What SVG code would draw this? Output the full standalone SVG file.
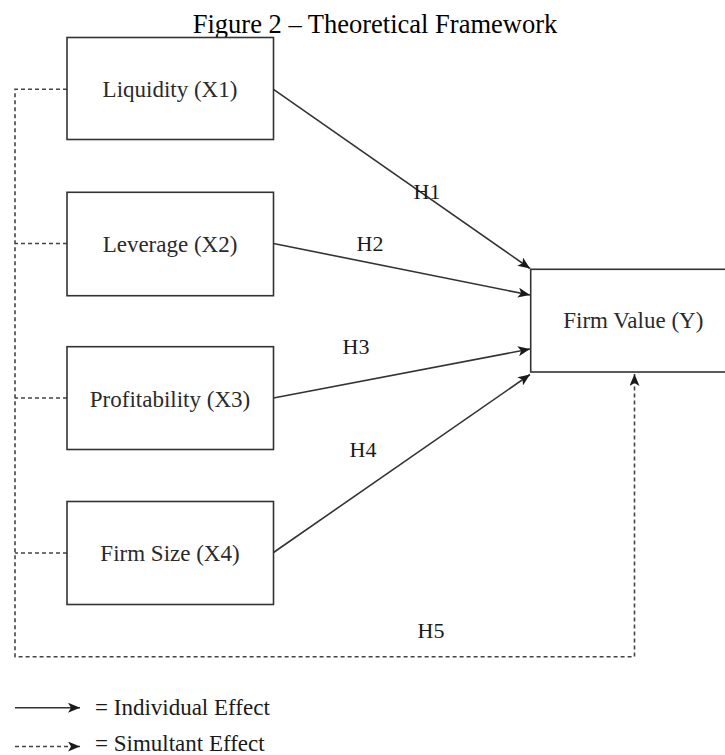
<svg xmlns="http://www.w3.org/2000/svg" width="725" height="755" viewBox="0 0 725 755">
<defs>
<style>
.box{fill:#fff;stroke:#333;stroke-width:1.6}
.t{font-family:"Liberation Serif","Times New Roman",serif;font-size:23px;fill:#2a2a2a;text-anchor:middle}
.h{font-family:"Liberation Serif","Times New Roman",serif;font-size:22px;fill:#1a1a1a;text-anchor:middle}
.lg{font-family:"Liberation Serif","Times New Roman",serif;font-size:23px;fill:#1a1a1a}
.solid{fill:none;stroke:#333;stroke-width:1.6}
.dash{fill:none;stroke:#444;stroke-width:1.6;stroke-dasharray:4 3}
</style>
<marker id="ah" viewBox="0 0 12 10" refX="12" refY="5" markerWidth="12" markerHeight="10" markerUnits="userSpaceOnUse" orient="auto">
<path d="M0,0 L12,5 L0,10 L3,5 z" fill="#1a1a1a"/>
</marker>
</defs>
<rect width="725" height="755" fill="#fff"/>
<text x="375" y="32.5" style="font-family:'Liberation Serif','Times New Roman',serif;font-size:26.5px;fill:#000;text-anchor:middle">Figure 2 – Theoretical Framework</text>
<g id="connectors">
<path class="dash" d="M67,89.3 H15 V656.7 H634.5 V374" marker-end="url(#ah)"/>
<path class="dash" d="M67,243.5 H15"/>
<path class="dash" d="M67,398 H15"/>
<path class="dash" d="M67,553 H15"/>
<path class="solid" d="M273.5,89.3 L530,268.5" marker-end="url(#ah)"/>
<path class="solid" d="M273.5,243.5 L530,295" marker-end="url(#ah)"/>
<path class="solid" d="M273.5,398 L530,349" marker-end="url(#ah)"/>
<path class="solid" d="M273.5,552.5 L530,374.5" marker-end="url(#ah)"/>
<text class="h" x="427" y="199">H1</text>
<text class="h" x="370" y="250.7">H2</text>
<text class="h" x="356" y="354">H3</text>
<text class="h" x="363" y="456.7">H4</text>
<text class="h" x="431" y="637.7">H5</text>
</g>
<g id="liquidity">
<rect class="box" x="67" y="37.5" width="206.5" height="102"/>
<text class="t" x="170" y="97">Liquidity (X1)</text>
</g>
<g id="leverage">
<rect class="box" x="67" y="192.3" width="206.5" height="103.4"/>
<text class="t" x="170" y="251.7">Leverage (X2)</text>
</g>
<g id="profitability">
<rect class="box" x="67" y="346.7" width="206.5" height="102.8"/>
<text class="t" x="170" y="406.5">Profitability (X3)</text>
</g>
<g id="firmsize">
<rect class="box" x="67" y="501.5" width="206.5" height="103"/>
<text class="t" x="170" y="561">Firm Size (X4)</text>
</g>
<g id="firmvalue">
<rect class="box" x="530.7" y="269.3" width="205" height="102.7"/>
<text class="t" x="633.3" y="328.3">Firm Value (Y)</text>
</g>
<g id="legend">
<path class="solid" d="M15,707.7 H80" marker-end="url(#ah)"/>
<text class="lg" x="95" y="715">= Individual Effect</text>
<path class="dash" d="M15,746.5 H80" marker-end="url(#ah)"/>
<text class="lg" x="95" y="751">= Simultant Effect</text>
</g>
</svg>
